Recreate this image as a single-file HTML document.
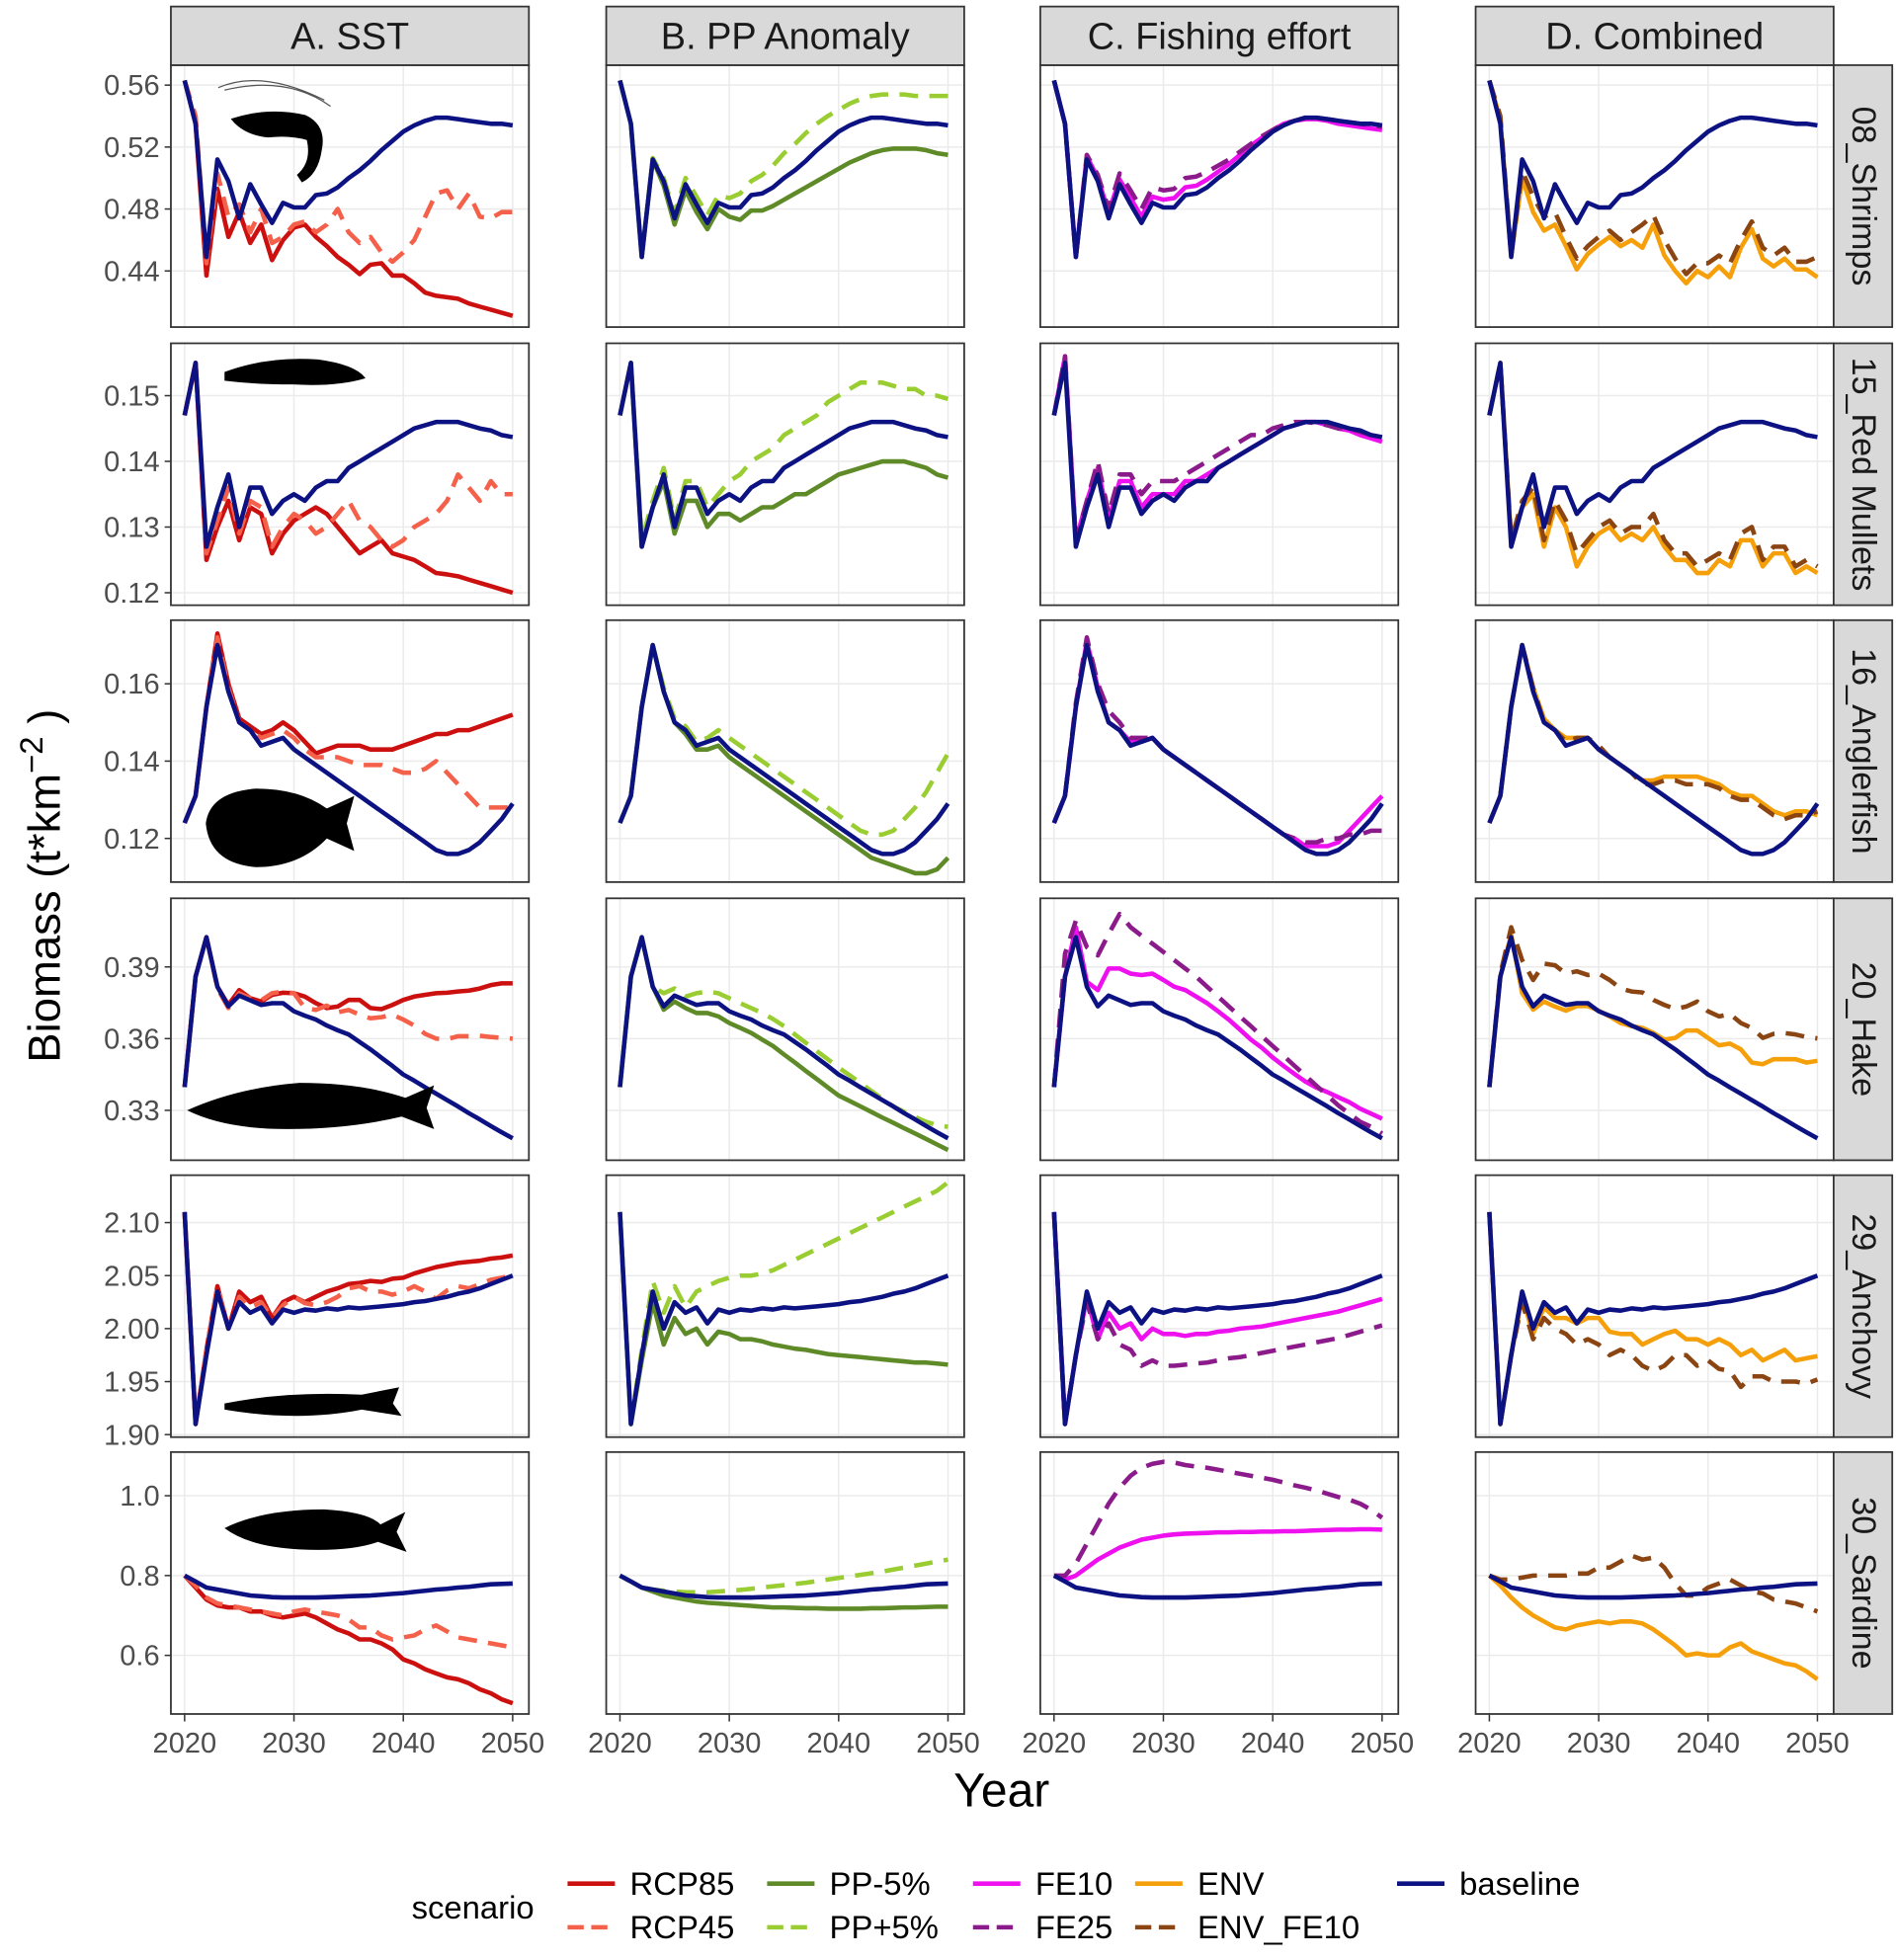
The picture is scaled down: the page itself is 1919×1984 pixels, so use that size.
<!DOCTYPE html>
<html><head><meta charset="utf-8"><style>
html,body{margin:0;padding:0;background:#fff;}
svg{display:block;font-family:"Liberation Sans",sans-serif;}
</style></head><body>
<svg id="chart" width="1919" height="1984" viewBox="0 0 1520 1571" xmlns="http://www.w3.org/2000/svg"></svg>
<script>
const years=[];for(let y=2020;y<=2050;y++)years.push(y);
const xTicks=[2020,2030,2040,2050];
const colTitles=["A. SST","B. PP Anomaly","C. Fishing effort","D. Combined"];
const rowTitles=["08_Shrimps","15_Red Mullets","16_Anglerfish","20_Hake","29_Anchovy","30_Sardine"];
// Shrimps
const shrimpBase=[0.563,0.535,0.449,0.512,0.498,0.474,0.496,0.483,0.471,0.484,0.481,0.481,0.489,0.490,0.494,0.500,0.505,0.511,0.518,0.524,0.530,0.534,0.537,0.539,0.539,0.538,0.537,0.536,0.535,0.535,0.534];
const shrimpRCP85=[0.563,0.535,0.437,0.493,0.462,0.478,0.458,0.470,0.447,0.460,0.468,0.470,0.462,0.456,0.449,0.444,0.438,0.444,0.445,0.437,0.437,0.432,0.426,0.424,0.423,0.422,0.419,0.417,0.415,0.413,0.411];
const shrimpRCP45=[0.563,0.540,0.445,0.503,0.475,0.483,0.465,0.480,0.458,0.462,0.470,0.472,0.465,0.470,0.480,0.465,0.458,0.462,0.452,0.446,0.452,0.460,0.475,0.490,0.492,0.480,0.490,0.475,0.474,0.478,0.478];
const shrimpPPm=[0.563,0.535,0.449,0.512,0.495,0.470,0.492,0.478,0.467,0.480,0.475,0.473,0.479,0.479,0.482,0.486,0.490,0.494,0.498,0.502,0.506,0.510,0.513,0.516,0.518,0.519,0.519,0.519,0.518,0.516,0.515];
const shrimpPPp=[0.563,0.535,0.449,0.513,0.500,0.477,0.500,0.488,0.476,0.489,0.487,0.490,0.498,0.502,0.508,0.516,0.522,0.529,0.535,0.540,0.544,0.548,0.551,0.553,0.554,0.554,0.554,0.553,0.553,0.553,0.553];
const shrimpFE10=[0.563,0.535,0.449,0.514,0.500,0.478,0.499,0.487,0.475,0.488,0.486,0.487,0.494,0.495,0.499,0.504,0.509,0.515,0.521,0.526,0.531,0.535,0.537,0.538,0.538,0.537,0.535,0.534,0.533,0.532,0.531];
const shrimpFE25=[0.563,0.535,0.449,0.515,0.502,0.480,0.503,0.492,0.480,0.494,0.492,0.493,0.500,0.501,0.504,0.508,0.512,0.517,0.522,0.527,0.531,0.535,0.537,0.539,0.539,0.538,0.537,0.536,0.535,0.534,0.533];
const shrimpENV=[0.563,0.538,0.450,0.500,0.478,0.466,0.470,0.456,0.441,0.451,0.457,0.462,0.456,0.460,0.455,0.470,0.450,0.440,0.432,0.440,0.436,0.443,0.436,0.455,0.467,0.448,0.443,0.448,0.441,0.441,0.436];
const shrimpENVFE=[0.563,0.540,0.450,0.505,0.488,0.475,0.478,0.462,0.448,0.456,0.462,0.466,0.460,0.465,0.470,0.476,0.460,0.448,0.438,0.445,0.445,0.450,0.445,0.460,0.472,0.455,0.450,0.455,0.446,0.446,0.449];
// Red mullets
const mulletBase=[0.147,0.155,0.127,0.133,0.138,0.130,0.136,0.136,0.132,0.134,0.135,0.134,0.136,0.137,0.137,0.139,0.140,0.141,0.142,0.143,0.144,0.145,0.1455,0.146,0.146,0.146,0.1455,0.145,0.1447,0.144,0.1437];
const mulletRCP85=[0.147,0.155,0.125,0.130,0.134,0.128,0.133,0.132,0.126,0.129,0.131,0.132,0.133,0.132,0.130,0.128,0.126,0.127,0.128,0.126,0.1255,0.125,0.124,0.123,0.1228,0.1225,0.122,0.1215,0.121,0.1205,0.120];
const mulletRCP45=[0.147,0.155,0.126,0.131,0.136,0.129,0.134,0.133,0.127,0.130,0.132,0.131,0.129,0.130,0.132,0.134,0.131,0.130,0.128,0.127,0.128,0.130,0.131,0.132,0.134,0.138,0.136,0.134,0.137,0.135,0.135];
const mulletPPm=[0.147,0.155,0.127,0.133,0.137,0.129,0.134,0.134,0.130,0.132,0.132,0.131,0.132,0.133,0.133,0.134,0.135,0.135,0.136,0.137,0.138,0.1385,0.139,0.1395,0.140,0.140,0.140,0.1395,0.139,0.138,0.1375];
const mulletPPp=[0.147,0.155,0.128,0.134,0.139,0.131,0.137,0.137,0.133,0.135,0.137,0.138,0.140,0.141,0.142,0.144,0.145,0.146,0.147,0.149,0.150,0.151,0.152,0.152,0.152,0.1515,0.151,0.151,0.150,0.150,0.1495];
const mulletFE10=[0.147,0.156,0.128,0.134,0.139,0.131,0.137,0.137,0.133,0.135,0.135,0.135,0.137,0.137,0.138,0.139,0.140,0.141,0.142,0.143,0.144,0.145,0.1455,0.146,0.146,0.1455,0.145,0.1447,0.144,0.1435,0.143];
const mulletFE25=[0.147,0.156,0.128,0.134,0.140,0.132,0.138,0.138,0.135,0.137,0.137,0.137,0.138,0.139,0.140,0.141,0.142,0.143,0.144,0.144,0.145,0.1455,0.146,0.146,0.1458,0.1455,0.145,0.145,0.1445,0.144,0.1437];
const mulletENV=[0.147,0.155,0.128,0.133,0.135,0.127,0.133,0.130,0.124,0.127,0.129,0.130,0.128,0.129,0.128,0.130,0.127,0.125,0.125,0.123,0.123,0.125,0.124,0.128,0.128,0.124,0.126,0.126,0.123,0.124,0.123];
const mulletENVFE=[0.147,0.155,0.128,0.134,0.136,0.128,0.134,0.131,0.126,0.128,0.130,0.131,0.129,0.130,0.130,0.132,0.128,0.126,0.126,0.124,0.125,0.126,0.125,0.129,0.130,0.125,0.127,0.127,0.124,0.125,0.124];
// Anglerfish
const anglerBase=[0.124,0.131,0.154,0.170,0.158,0.150,0.148,0.144,0.145,0.146,0.143,0.141,0.139,0.137,0.135,0.133,0.131,0.129,0.127,0.125,0.123,0.121,0.119,0.117,0.116,0.116,0.117,0.119,0.122,0.125,0.129];
const anglerRCP85=[0.124,0.131,0.154,0.173,0.160,0.151,0.149,0.147,0.148,0.150,0.148,0.145,0.142,0.143,0.144,0.144,0.144,0.143,0.143,0.143,0.144,0.145,0.146,0.147,0.147,0.148,0.148,0.149,0.150,0.151,0.152];
const anglerRCP45=[0.124,0.131,0.154,0.172,0.159,0.150,0.148,0.146,0.147,0.148,0.146,0.143,0.141,0.141,0.141,0.140,0.139,0.139,0.139,0.138,0.137,0.137,0.138,0.140,0.137,0.134,0.131,0.128,0.128,0.128,0.128];
const anglerPPm=[0.124,0.131,0.154,0.170,0.158,0.150,0.147,0.143,0.143,0.144,0.141,0.139,0.137,0.135,0.133,0.131,0.129,0.127,0.125,0.123,0.121,0.119,0.117,0.115,0.114,0.113,0.112,0.111,0.111,0.112,0.115];
const anglerPPp=[0.124,0.131,0.154,0.170,0.159,0.151,0.149,0.145,0.146,0.148,0.146,0.144,0.142,0.140,0.138,0.136,0.134,0.132,0.130,0.128,0.126,0.124,0.122,0.121,0.121,0.122,0.125,0.128,0.132,0.137,0.142];
const anglerFE10=[0.124,0.131,0.154,0.171,0.159,0.150,0.148,0.145,0.145,0.146,0.143,0.141,0.139,0.137,0.135,0.133,0.131,0.129,0.127,0.125,0.123,0.121,0.120,0.118,0.118,0.118,0.119,0.122,0.125,0.128,0.131];
const anglerFE25=[0.124,0.131,0.155,0.172,0.160,0.153,0.150,0.146,0.146,0.146,0.143,0.141,0.139,0.137,0.135,0.133,0.131,0.129,0.127,0.125,0.123,0.121,0.120,0.119,0.119,0.120,0.120,0.121,0.121,0.122,0.122];
const anglerENV=[0.124,0.131,0.154,0.170,0.159,0.151,0.148,0.146,0.146,0.146,0.143,0.141,0.139,0.137,0.135,0.135,0.136,0.136,0.136,0.136,0.135,0.134,0.132,0.131,0.131,0.129,0.127,0.126,0.127,0.127,0.126];
const anglerENVFE=[0.124,0.131,0.154,0.170,0.159,0.150,0.148,0.145,0.146,0.146,0.144,0.141,0.139,0.137,0.134,0.134,0.135,0.135,0.134,0.134,0.134,0.133,0.131,0.130,0.130,0.128,0.126,0.125,0.126,0.126,0.127];
// Hake
const hakeBase=[0.3397,0.386,0.4024,0.3817,0.3735,0.378,0.376,0.3741,0.3748,0.3748,0.3714,0.3696,0.368,0.3655,0.3635,0.3617,0.3586,0.3555,0.352,0.3486,0.345,0.3424,0.3396,0.337,0.3343,0.3316,0.3288,0.3262,0.3234,0.3208,0.3183];
const hakeRCP85=[0.3397,0.386,0.4024,0.3817,0.3741,0.3803,0.3769,0.3755,0.3783,0.3792,0.379,0.3776,0.3748,0.3728,0.3734,0.3762,0.3762,0.3728,0.3723,0.3741,0.3762,0.3776,0.3783,0.379,0.3792,0.3797,0.3801,0.381,0.3824,0.3831,0.3831];
const hakeRCP45=[0.3397,0.386,0.4024,0.381,0.3728,0.379,0.3769,0.376,0.379,0.3797,0.379,0.3728,0.372,0.3738,0.371,0.372,0.37,0.3685,0.369,0.37,0.368,0.3655,0.362,0.36,0.3598,0.361,0.361,0.3612,0.3607,0.3603,0.36];
const hakePPm=[0.3397,0.386,0.4024,0.3817,0.3721,0.3755,0.3728,0.3707,0.3707,0.3693,0.3665,0.3645,0.3624,0.3596,0.3569,0.3534,0.35,0.3465,0.3431,0.3396,0.3362,0.3339,0.3316,0.3293,0.327,0.3248,0.3225,0.3203,0.318,0.3157,0.3134];
const hakePPp=[0.3397,0.386,0.4024,0.3817,0.379,0.381,0.3776,0.379,0.3797,0.379,0.3769,0.3748,0.3728,0.3707,0.3682,0.3652,0.3617,0.3583,0.3548,0.3514,0.3479,0.3447,0.3414,0.3381,0.3348,0.3316,0.3293,0.3272,0.3252,0.3238,0.3231];
const hakeFE10=[0.3397,0.3859,0.4066,0.3838,0.3803,0.3893,0.3893,0.3872,0.3866,0.3872,0.3845,0.3817,0.3803,0.3776,0.3748,0.3714,0.3679,0.3638,0.3596,0.3562,0.3521,0.3486,0.3452,0.342,0.3395,0.3376,0.3355,0.3334,0.3307,0.3286,0.3265];
const hakeFE25=[0.3397,0.3955,0.4093,0.3983,0.3948,0.4038,0.4121,0.4066,0.4031,0.3997,0.3962,0.3928,0.3893,0.3859,0.3817,0.3776,0.3734,0.3693,0.3652,0.361,0.3569,0.3528,0.3486,0.3445,0.3403,0.3362,0.3321,0.3286,0.3252,0.3231,0.3203];
const hakeENV=[0.3397,0.386,0.4035,0.379,0.3721,0.3755,0.3734,0.3717,0.3736,0.3736,0.3717,0.3693,0.3665,0.3652,0.3645,0.3624,0.3596,0.3603,0.3634,0.3634,0.3603,0.3572,0.3579,0.3555,0.35,0.3493,0.3514,0.3514,0.3514,0.35,0.3507];
const hakeENVFE=[0.3397,0.387,0.4066,0.3928,0.3845,0.3914,0.3907,0.3872,0.3882,0.3866,0.3872,0.3845,0.381,0.3797,0.3793,0.3762,0.3741,0.3724,0.3734,0.3755,0.3714,0.3693,0.3703,0.3665,0.3645,0.3603,0.362,0.3623,0.3617,0.3607,0.3601];
// Anchovy
const anchBase=[2.11,1.91,1.975,2.035,2.00,2.025,2.015,2.02,2.005,2.018,2.015,2.018,2.017,2.019,2.018,2.020,2.019,2.020,2.021,2.022,2.023,2.025,2.026,2.028,2.030,2.033,2.035,2.038,2.042,2.046,2.050];
const anchRCP85=[2.11,1.91,1.98,2.04,2.00,2.035,2.025,2.03,2.01,2.025,2.03,2.025,2.03,2.035,2.038,2.042,2.043,2.045,2.044,2.047,2.048,2.052,2.055,2.058,2.060,2.062,2.063,2.064,2.066,2.067,2.069];
const anchRCP45=[2.11,1.91,1.98,2.04,2.00,2.03,2.02,2.025,2.01,2.022,2.03,2.024,2.022,2.025,2.03,2.038,2.04,2.035,2.035,2.032,2.035,2.04,2.035,2.028,2.036,2.04,2.038,2.042,2.046,2.048,2.050];
const anchPPm=[2.11,1.91,1.97,2.025,1.985,2.01,1.995,2.00,1.985,1.997,1.995,1.99,1.99,1.988,1.985,1.983,1.981,1.98,1.978,1.976,1.975,1.974,1.973,1.972,1.971,1.970,1.969,1.968,1.968,1.967,1.966];
const anchPPp=[2.11,1.91,1.98,2.045,2.015,2.04,2.02,2.035,2.04,2.045,2.048,2.05,2.05,2.052,2.055,2.06,2.065,2.07,2.075,2.08,2.085,2.09,2.095,2.10,2.105,2.11,2.115,2.12,2.125,2.13,2.138];
const anchFE10=[2.11,1.91,1.975,2.03,1.99,2.015,2.00,2.005,1.99,2.00,1.995,1.995,1.993,1.995,1.995,1.997,1.998,2.000,2.001,2.002,2.004,2.006,2.008,2.010,2.012,2.014,2.016,2.019,2.022,2.025,2.028];
const anchFE25=[2.11,1.91,1.975,2.025,1.99,2.005,1.985,1.98,1.965,1.97,1.965,1.965,1.966,1.967,1.968,1.970,1.972,1.973,1.975,1.977,1.979,1.981,1.983,1.985,1.987,1.989,1.991,1.994,1.997,2.000,2.003];
const anchENV=[2.11,1.91,1.975,2.03,1.995,2.02,2.01,2.01,2.005,2.01,2.01,1.997,1.995,1.995,1.985,1.99,1.995,1.998,1.99,1.99,1.985,1.99,1.985,1.975,1.98,1.97,1.975,1.98,1.97,1.972,1.974];
const anchENVFE=[2.11,1.91,1.975,2.025,1.99,2.01,2.0,1.995,1.985,1.99,1.985,1.975,1.98,1.975,1.965,1.96,1.965,1.975,1.975,1.965,1.97,1.962,1.96,1.945,1.955,1.955,1.95,1.95,1.95,1.948,1.952];
// Sardine
const sardBase=[0.80,0.785,0.77,0.765,0.76,0.755,0.75,0.748,0.746,0.745,0.745,0.745,0.745,0.746,0.747,0.748,0.749,0.750,0.752,0.754,0.756,0.759,0.762,0.765,0.767,0.77,0.772,0.775,0.778,0.779,0.78];
const sardRCP85=[0.80,0.77,0.74,0.725,0.72,0.72,0.71,0.71,0.70,0.695,0.70,0.705,0.695,0.68,0.665,0.655,0.64,0.64,0.63,0.615,0.59,0.58,0.565,0.555,0.545,0.54,0.53,0.515,0.505,0.49,0.48];
const sardRCP45=[0.80,0.775,0.745,0.73,0.725,0.72,0.715,0.71,0.705,0.70,0.71,0.715,0.71,0.705,0.70,0.69,0.67,0.67,0.65,0.64,0.645,0.65,0.665,0.675,0.66,0.645,0.64,0.635,0.63,0.625,0.62];
const sardPPm=[0.80,0.785,0.77,0.76,0.75,0.745,0.74,0.735,0.732,0.73,0.728,0.726,0.724,0.722,0.72,0.72,0.719,0.718,0.718,0.717,0.717,0.717,0.717,0.718,0.718,0.719,0.72,0.72,0.721,0.722,0.722];
const sardPPp=[0.80,0.785,0.77,0.765,0.762,0.76,0.758,0.758,0.758,0.76,0.762,0.764,0.767,0.77,0.773,0.776,0.779,0.782,0.786,0.79,0.794,0.798,0.802,0.806,0.81,0.815,0.82,0.825,0.83,0.835,0.84];
const sardFE10=[0.80,0.79,0.80,0.82,0.84,0.855,0.87,0.88,0.89,0.895,0.90,0.903,0.905,0.906,0.907,0.908,0.908,0.909,0.909,0.91,0.91,0.911,0.911,0.912,0.913,0.914,0.915,0.915,0.916,0.916,0.915];
const sardFE25=[0.80,0.80,0.83,0.88,0.93,0.98,1.02,1.05,1.07,1.08,1.085,1.083,1.077,1.073,1.07,1.065,1.06,1.055,1.05,1.045,1.04,1.033,1.026,1.02,1.013,1.005,0.997,0.99,0.98,0.965,0.945];
const sardENV=[0.80,0.775,0.745,0.72,0.70,0.685,0.67,0.665,0.675,0.68,0.685,0.68,0.685,0.685,0.68,0.665,0.645,0.625,0.60,0.605,0.60,0.60,0.62,0.63,0.61,0.60,0.59,0.58,0.575,0.56,0.54];
const sardENVFE=[0.80,0.79,0.79,0.795,0.80,0.80,0.80,0.80,0.805,0.805,0.82,0.82,0.835,0.85,0.84,0.845,0.82,0.78,0.75,0.75,0.77,0.78,0.79,0.775,0.76,0.755,0.74,0.735,0.73,0.72,0.71];

const rowTicks=[[0.56,0.52,0.48,0.44],[0.15,0.14,0.13,0.12],[0.16,0.14,0.12],[0.39,0.36,0.33],[2.10,2.05,2.00,1.95,1.90],[1.0,0.8,0.6]];
const rowTickDigits=[2,2,2,2,2,1];

const STY={RCP85:["#cc1010",""],RCP45:["#f4604a","15,9"],"PP-5%":["#5f8a28",""],"PP+5%":["#9acd32","15,9"],FE10:["#ee10ee",""],FE25:["#8b1a8b","15,9"],ENV:["#f5a00a",""],ENV_FE10:["#8b4513","15,9"],baseline:["#0d1282",""]};
const rowsData=[
 [[["RCP85",shrimpRCP85],["RCP45",shrimpRCP45]],[["PP-5%",shrimpPPm],["PP+5%",shrimpPPp]],[["FE10",shrimpFE10],["FE25",shrimpFE25]],[["ENV",shrimpENV],["ENV_FE10",shrimpENVFE]],shrimpBase],
 [[["RCP85",mulletRCP85],["RCP45",mulletRCP45]],[["PP-5%",mulletPPm],["PP+5%",mulletPPp]],[["FE10",mulletFE10],["FE25",mulletFE25]],[["ENV",mulletENV],["ENV_FE10",mulletENVFE]],mulletBase],
 [[["RCP85",anglerRCP85],["RCP45",anglerRCP45]],[["PP-5%",anglerPPm],["PP+5%",anglerPPp]],[["FE10",anglerFE10],["FE25",anglerFE25]],[["ENV",anglerENV],["ENV_FE10",anglerENVFE]],anglerBase],
 [[["RCP85",hakeRCP85],["RCP45",hakeRCP45]],[["PP-5%",hakePPm],["PP+5%",hakePPp]],[["FE10",hakeFE10],["FE25",hakeFE25]],[["ENV",hakeENV],["ENV_FE10",hakeENVFE]],hakeBase],
 [[["RCP85",anchRCP85],["RCP45",anchRCP45]],[["PP-5%",anchPPm],["PP+5%",anchPPp]],[["FE10",anchFE10],["FE25",anchFE25]],[["ENV",anchENV],["ENV_FE10",anchENVFE]],anchBase],
 [[["RCP85",sardRCP85],["RCP45",sardRCP45]],[["PP-5%",sardPPm],["PP+5%",sardPPp]],[["FE10",sardFE10],["FE25",sardFE25]],[["ENV",sardENV],["ENV_FE10",sardENVFE]],sardBase]
];
// layout (display units)
const colLeft=[137,486,834,1183], PW=287;
const rowTop=[52,275,497,720,942,1164], PH=210;
const yCal=[[0.56,68,0.44,217],[0.15,317,0.12,475],[0.16,548,0.12,672],[0.39,775,0.33,890],[2.10,980,1.90,1150],[1.0,1199,0.6,1327]];
const NS="http://www.w3.org/2000/svg";
const svg=document.getElementById("chart");
function mk(tag,attrs,parent,text){const e=document.createElementNS(NS,tag);for(const k in attrs)e.setAttribute(k,attrs[k]);if(text!=null)e.textContent=text;(parent||svg).appendChild(e);return e;}
function xs(c,yr){return colLeft[c]+11+(yr-2020)/30*263;}
function ys(r,v){const [a,pa,b,pb]=yCal[r];return pa+(v-a)*(pb-pa)/(b-a);}
const defs=mk("defs",{});
for(let r=0;r<6;r++){
 for(let c=0;c<4;c++){
  const cp=mk("clipPath",{id:"cp"+r+"_"+c},defs);
  mk("rect",{x:colLeft[c],y:rowTop[r],width:PW,height:PH},cp);
  const g=mk("g",{});
  
  
  mk("rect",{x:colLeft[c],y:rowTop[r],width:PW,height:PH,fill:"#fff"},g);
  rowTicks[r].forEach(t=>{mk("line",{x1:colLeft[c],x2:colLeft[c]+PW,y1:ys(r,t),y2:ys(r,t),stroke:"#ebebeb","stroke-width":1.2},g);});
  xTicks.forEach(t=>{mk("line",{x1:xs(c,t),x2:xs(c,t),y1:rowTop[r],y2:rowTop[r]+PH,stroke:"#ebebeb","stroke-width":1.2},g);});
  const lg=mk("g",{"clip-path":"url(#cp"+r+"_"+c+")"},g);
  const series=rowsData[r][c].concat([["baseline",rowsData[r][4]]]);
  series.forEach(([name,vals])=>{
   const d=vals.map((v,i)=>(i?"L":"M")+xs(c,years[i]).toFixed(1)+","+ys(r,v).toFixed(1)).join("");
   const p=mk("path",{d:d,fill:"none",stroke:STY[name][0],"stroke-width":3.6,"stroke-linejoin":"round"},lg);
   if(STY[name][1])p.setAttribute("stroke-dasharray",STY[name][1]);
   
   
  });
  mk("rect",{x:colLeft[c],y:rowTop[r],width:PW,height:PH,fill:"none",stroke:"#333","stroke-width":1.4},g);
 }
 rowTicks[r].forEach(t=>{
  mk("line",{x1:colLeft[0]-5,x2:colLeft[0],y1:ys(r,t),y2:ys(r,t),stroke:"#333","stroke-width":1.2});
  const tx=mk("text",{x:colLeft[0]-9,y:ys(r,t)+8,"text-anchor":"end","font-size":23,fill:"#4d4d4d"},null,t.toFixed(rowTickDigits[r]));
  
  
 });
 const sg=mk("g",{});
 
 
 mk("rect",{x:1470,y:rowTop[r],width:47,height:PH,fill:"#d9d9d9",stroke:"#333","stroke-width":1.4},sg);
 mk("text",{x:1485,y:rowTop[r]+PH/2,"text-anchor":"middle","font-size":27,fill:"#1a1a1a",transform:"rotate(90 1485 "+(rowTop[r]+PH/2)+")"},sg,rowTitles[r]);
}
for(let c=0;c<4;c++){
 const sg=mk("g",{});
 
 
 mk("rect",{x:colLeft[c],y:5,width:PW,height:47,fill:"#d9d9d9",stroke:"#333","stroke-width":1.4},sg);
 mk("text",{x:colLeft[c]+PW/2,y:39,"text-anchor":"middle","font-size":30,fill:"#1a1a1a"},sg,colTitles[c]);
 xTicks.forEach(t=>{
  mk("line",{x1:xs(c,t),x2:xs(c,t),y1:1374,y2:1380,stroke:"#333","stroke-width":1.2});
  const tx=mk("text",{x:xs(c,t),y:1405,"text-anchor":"middle","font-size":23,fill:"#4d4d4d"},null,String(t));
  
  
 });
}
const xt=mk("text",{x:803,y:1448,"text-anchor":"middle","font-size":38,fill:"#000"},null,"Year");


const yt=mk("text",{x:0,y:0,"text-anchor":"middle","font-size":36,fill:"#000",transform:"translate(48 710) rotate(-90)"});


yt.innerHTML='Biomass (t*km<tspan dy="-14" font-size="26">−2</tspan><tspan dy="14"> )</tspan>';
const sil=mk("g",{fill:"#000"});


mk("path",{d:"M185,95 Q215,85 245,92 Q262,100 258,120 Q255,140 242,146 L238,140 Q250,130 246,112 Q232,108 215,110 Q195,108 185,95Z"},sil);
mk("path",{d:"M175,70 Q210,55 260,80 M180,72 Q230,60 265,85",fill:"none",stroke:"#555","stroke-width":1},sil);
mk("path",{d:"M180,298 Q215,285 255,288 Q285,292 293,303 Q270,310 235,308 Q205,308 180,305Z"},sil);
mk("path",{d:"M165,660 Q168,635 205,632 Q240,632 262,648 L284,638 L278,660 L284,682 L262,672 Q240,695 205,695 Q168,692 165,660Z"},sil);
mk("path",{d:"M150,890 Q190,872 240,868 Q290,868 325,880 L348,870 L342,888 L348,905 L322,895 Q280,905 230,905 Q180,905 150,890Z"},sil);
mk("path",{d:"M180,1125 Q230,1115 290,1118 L320,1112 L315,1125 L322,1135 L290,1130 Q240,1140 180,1130Z"},sil);
mk("path",{d:"M180,1225 Q210,1210 260,1210 Q295,1212 305,1222 L325,1212 L318,1228 L326,1244 L303,1236 Q280,1244 240,1242 Q200,1240 180,1225Z"},sil);
const leg=mk("g",{});


mk("text",{x:330,y:1538,"font-size":26,fill:"#000"},leg,"scenario");
const legItems=[["RCP85",455,1510],["RCP45",455,1545],["PP-5%",615,1510],["PP+5%",615,1545],["FE10",780,1510],["FE25",780,1545],["ENV",910,1510],["ENV_FE10",910,1545],["baseline",1120,1510]];
legItems.forEach(([n,x,y])=>{
 const e=mk("g",{},leg);
 
 
 const l=mk("line",{x1:x,x2:x+38,y1:y,y2:y,stroke:STY[n][0],"stroke-width":3.6},e);
 if(STY[n][1])l.setAttribute("stroke-dasharray","13,6");
 mk("text",{x:x+50,y:y+9,"font-size":26,fill:"#000"},e,n);
});
</script>
</body></html>
